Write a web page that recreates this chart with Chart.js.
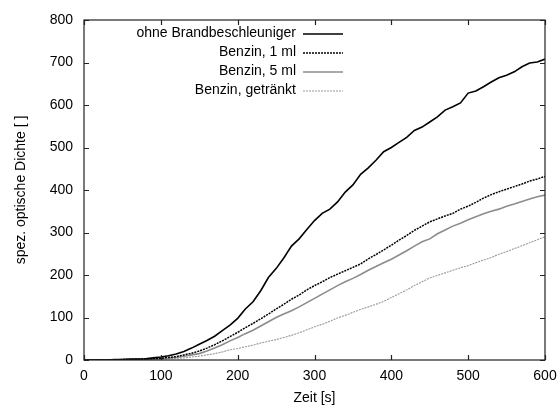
<!DOCTYPE html>
<html>
<head>
<meta charset="utf-8">
<script src="https://cdn.jsdelivr.net/npm/chart.js@4/dist/chart.umd.min.js"></script>
<style>
  html, body { margin: 0; padding: 0; background: #fff; }
  canvas { display: block; }
</style>
</head>
<body>
<canvas id="chart" width="558" height="414"></canvas>
<script>
const zeit = [0, 10, 20, 30, 40, 50, 60, 70, 80, 90, 100, 110, 120, 130, 140, 150, 160, 170, 180, 190,
  200, 210, 220, 230, 240, 250, 260, 270, 280, 290, 300, 310, 320, 330, 340, 350, 360, 370, 380, 390,
  400, 410, 420, 430, 440, 450, 460, 470, 480, 490, 500, 510, 520, 530, 540, 550, 560, 570, 580, 590, 600];

const ohneBrand = [0, 0, 0, 0, 1, 1, 2, 2, 3, 5, 7, 10, 14, 20, 28, 37, 46, 56, 69, 82,
  98, 120, 137, 163, 194, 215, 240, 268, 285, 307, 328, 345, 355, 372, 395, 412, 437, 452, 470, 490,
  500, 512, 524, 540, 548, 560, 572, 588, 596, 605, 628, 633, 643, 654, 664, 670, 678, 690, 699, 701, 708];

const benzin1ml = [0, 0, 0, 0, 0, 1, 1, 2, 2, 3, 4, 6, 8, 12, 16, 21, 28, 36, 45, 55,
  65, 76, 86, 97, 108, 120, 131, 143, 153, 165, 175, 184, 194, 202, 210, 218, 226, 238, 248, 259,
  270, 282, 293, 305, 315, 325, 332, 339, 345, 355, 362, 371, 381, 389, 396, 402, 408, 414, 421, 426, 432];

const benzin5ml = [0, 0, 0, 0, 0, 1, 1, 1, 2, 2, 3, 4, 6, 9, 12, 15, 21, 28, 36, 45,
  53, 62, 70, 80, 90, 100, 108, 116, 125, 135, 145, 155, 165, 175, 184, 192, 201, 211, 220, 229,
  237, 247, 257, 268, 278, 285, 297, 306, 315, 322, 330, 337, 344, 350, 355, 362, 367, 373, 379, 384, 388];

const benzinGetraenkt = [0, 0, 0, 0, 0, 0, 1, 1, 1, 2, 2, 3, 4, 5, 7, 9, 12, 15, 19, 24,
  27, 31, 35, 40, 44, 48, 53, 58, 64, 71, 78, 84, 91, 99, 105, 112, 119, 125, 131, 138,
  147, 156, 165, 175, 184, 193, 199, 205, 211, 217, 222, 229, 235, 241, 249, 255, 262, 269, 276, 283, 290];

const xTicks = [0, 100, 200, 300, 400, 500, 600];
const yTicks = [0, 100, 200, 300, 400, 500, 600, 700, 800];

const FONT = 'Liberation Sans, Arial, Helvetica, sans-serif';
const FS = 14;

const serien = [
  { label: 'ohne Brandbeschleuniger', data: ohneBrand, color: '#000', width: 1.6, dash: [] },
  { label: 'Benzin, 1 ml', data: benzin1ml, color: '#000', width: 1.5, dash: [2, 1] },
  { label: 'Benzin, 5 ml', data: benzin5ml, color: '#8c8c8c', width: 1.6, dash: [] },
  { label: 'Benzin, getränkt', data: benzinGetraenkt, color: '#999', width: 1.1, dash: [2, 1] },
];

// Rahmen mit Ticks nach innen (wie gnuplot)
const rahmenPlugin = {
  id: 'rahmen',
  afterDatasetsDraw(chart) {
    const { ctx, chartArea: a, scales } = chart;
    ctx.save();
    ctx.strokeStyle = '#222';
    ctx.lineWidth = 1.2;
    ctx.strokeRect(a.left, a.top, a.right - a.left, a.bottom - a.top);
    ctx.beginPath();
    xTicks.forEach(v => {
      const x = Math.round(scales.x.getPixelForValue(v)) + 0.5;
      ctx.moveTo(x, a.bottom); ctx.lineTo(x, a.bottom - 5);
      ctx.moveTo(x, a.top); ctx.lineTo(x, a.top + 5);
    });
    yTicks.forEach(v => {
      const y = Math.round(scales.y.getPixelForValue(v)) + 0.5;
      ctx.moveTo(a.left, y); ctx.lineTo(a.left + 5, y);
      ctx.moveTo(a.right, y); ctx.lineTo(a.right - 5, y);
    });
    ctx.stroke();
    ctx.restore();
  }
};

// Legende oben rechts: Text rechtsbündig, Linienmuster rechts daneben
const legendePlugin = {
  id: 'legende',
  afterDatasetsDraw(chart) {
    const { ctx } = chart;
    const textRight = 296, lineX0 = 303, lineX1 = 343;
    ctx.save();
    ctx.font = FS + 'px ' + FONT;
    ctx.textAlign = 'right';
    ctx.textBaseline = 'middle';
    chart.data.datasets.forEach((ds, i) => {
      const y = 33.5 + i * 19;
      ctx.fillStyle = '#000';
      ctx.fillText(ds.label, textRight, y);
      ctx.beginPath();
      ctx.strokeStyle = ds.borderColor;
      ctx.lineWidth = ds.borderWidth;
      ctx.setLineDash(ds.borderDash);
      ctx.moveTo(lineX0, y + 0.5);
      ctx.lineTo(lineX1, y + 0.5);
      ctx.stroke();
    });
    ctx.restore();
  }
};

new Chart(document.getElementById('chart').getContext('2d'), {
  type: 'line',
  data: {
    datasets: serien.map(s => ({
      label: s.label,
      data: zeit.map((t, i) => ({ x: t, y: s.data[i] })),
      borderColor: s.color,
      borderWidth: s.width,
      borderDash: s.dash,
      pointRadius: 0,
      tension: 0,
      fill: false,
    })),
  },
  options: {
    responsive: false,
    animation: false,
    layout: { padding: { top: 20, right: 13, left: 6, bottom: 6 } },
    plugins: {
      legend: { display: false },
      tooltip: { enabled: false },
    },
    scales: {
      x: {
        type: 'linear',
        min: 0,
        max: 600,
        border: { display: false },
        grid: { display: false, drawTicks: false },
        afterBuildTicks: (scale) => { scale.ticks = xTicks.map(v => ({ value: v })); },
        afterFit: (scale) => {
          scale.height = 414 - 360 - 6;
          // letzte Beschriftung darf über den Rand hinausragen
          scale.paddingLeft = 0;
          scale.paddingRight = 0;
        },
        ticks: {
          padding: 8,
          color: '#000',
          maxRotation: 0,
          font: { family: FONT, size: FS },
        },
        title: {
          display: true,
          text: 'Zeit [s]',
          color: '#000',
          padding: { top: 4, bottom: 1.5 },
          font: { family: FONT, size: FS },
        },
      },
      y: {
        min: 0,
        max: 800,
        border: { display: false },
        grid: { display: false, drawTicks: false },
        afterBuildTicks: (scale) => { scale.ticks = yTicks.map(v => ({ value: v })); },
        afterFit: (scale) => {
          scale.width = 84 - 6;
          scale.paddingTop = 0;
          scale.paddingBottom = 0;
        },
        ticks: {
          padding: 11,
          color: '#000',
          font: { family: FONT, size: FS },
        },
        title: {
          display: true,
          text: 'spez. optische Dichte [ ]',
          color: '#000',
          padding: { top: 6.5, bottom: 0 },
          font: { family: FONT, size: FS },
        },
      },
    },
  },
  plugins: [rahmenPlugin, legendePlugin],
});
</script>
</body>
</html>
